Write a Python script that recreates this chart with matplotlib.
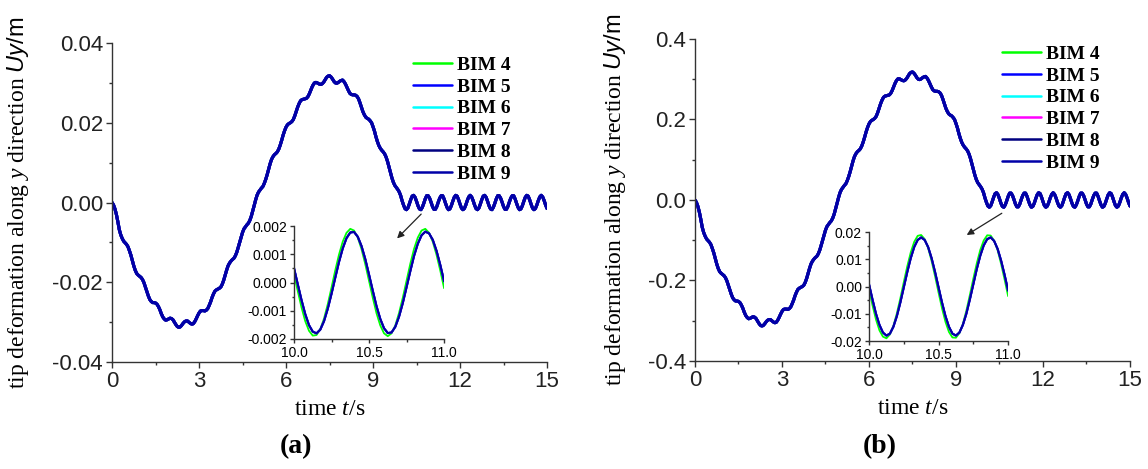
import numpy as np
import matplotlib
matplotlib.use('Agg')
import matplotlib.pyplot as plt
from matplotlib.ticker import MultipleLocator, FormatStrFormatter

plt.rcParams['font.family'] = 'Liberation Sans'
plt.rcParams['axes.unicode_minus'] = False
plt.rcParams['mathtext.fontset'] = 'custom'
plt.rcParams['mathtext.rm'] = 'Liberation Serif'
plt.rcParams['mathtext.it'] = 'Liberation Serif:italic'
plt.rcParams['mathtext.sf'] = 'Liberation Sans:italic'
plt.rcParams['mathtext.bf'] = 'Liberation Sans'

# ---- data ----
labels = ['BIM 4', 'BIM 5', 'BIM 6', 'BIM 7', 'BIM 8', 'BIM 9']
colors = ['#00ff00', '#0000ff', '#00ffff', '#ff00ff', '#000080', '#0000a8']

t_step = 0.05
t_main = np.round(np.arange(301) * t_step, 2)  # 0 ... 15 s

# tip deformation (m), panel (a)
uy_a = [
    0.0, -0.0006, -0.0016, -0.0030, -0.0048, -0.0068, -0.0081, -0.0090, -0.0097, -0.0101,
    -0.0105, -0.0111, -0.0121, -0.0132, -0.0146, -0.0159, -0.0170, -0.0178, -0.0182, -0.0185,
    -0.0188, -0.0193, -0.0201, -0.0212, -0.0223, -0.0234, -0.0243, -0.0248, -0.0251, -0.0251,
    -0.0252, -0.0255, -0.0261, -0.0269, -0.0279, -0.0287, -0.0292, -0.0295, -0.0294, -0.0292,
    -0.0290, -0.0291, -0.0294, -0.0300, -0.0306, -0.0311, -0.0313, -0.0312, -0.0308, -0.0303,
    -0.0299, -0.0297, -0.0297, -0.0300, -0.0303, -0.0305, -0.0304, -0.0299, -0.0292, -0.0284,
    -0.0277, -0.0272, -0.0271, -0.0271, -0.0272, -0.0270, -0.0266, -0.0258, -0.0249, -0.0238,
    -0.0229, -0.0222, -0.0219, -0.0217, -0.0215, -0.0212, -0.0205, -0.0195, -0.0182, -0.0170,
    -0.0159, -0.0152, -0.0147, -0.0143, -0.0140, -0.0134, -0.0125, -0.0113, -0.0100, -0.0086,
    -0.0075, -0.0066, -0.0061, -0.0056, -0.0052, -0.0045, -0.0035, -0.0022, -0.0008, 0.0006,
    0.0018, 0.0026, 0.0031, 0.0036, 0.0040, 0.0048, 0.0058, 0.0070, 0.0084, 0.0097,
    0.0108, 0.0115, 0.0120, 0.0123, 0.0127, 0.0134, 0.0144, 0.0156, 0.0169, 0.0180,
    0.0189, 0.0195, 0.0198, 0.0200, 0.0203, 0.0208, 0.0217, 0.0228, 0.0239, 0.0248,
    0.0255, 0.0258, 0.0259, 0.0260, 0.0261, 0.0265, 0.0272, 0.0281, 0.0290, 0.0297,
    0.0301, 0.0301, 0.0299, 0.0297, 0.0296, 0.0298, 0.0302, 0.0308, 0.0314, 0.0317,
    0.0318, 0.0315, 0.0310, 0.0304, 0.0300, 0.0299, 0.0301, 0.0304, 0.0306, 0.0307,
    0.0303, 0.0297, 0.0289, 0.0281, 0.0274, 0.0271, 0.0270, 0.0270, 0.0269, 0.0266,
    0.0260, 0.0250, 0.0239, 0.0228, 0.0220, 0.0214, 0.0211, 0.0209, 0.0205, 0.0200,
    0.0190, 0.0179, 0.0165, 0.0153, 0.0143, 0.0136, 0.0131, 0.0127, 0.0122, 0.0114,
    0.0103, 0.0089, 0.0075, 0.0062, 0.0051, 0.0043, 0.0038, 0.0033, 0.0027, 0.0018,
    0.0005, -0.0006, -0.0015, -0.0018, -0.0014, -0.0004, 0.0007, 0.0016, 0.0018, 0.0013,
    0.0003, -0.0008, -0.0016, -0.0018, -0.0012, -0.0002, 0.0009, 0.0017, 0.0017, 0.0011,
    0.0001, -0.0010, -0.0017, -0.0017, -0.0010, 0.0001, 0.0011, 0.0017, 0.0017, 0.0009,
    -0.0002, -0.0012, -0.0018, -0.0016, -0.0008, 0.0003, 0.0013, 0.0018, 0.0016, 0.0007,
    -0.0004, -0.0014, -0.0018, -0.0015, -0.0006, 0.0005, 0.0014, 0.0018, 0.0014, 0.0005,
    -0.0006, -0.0015, -0.0018, -0.0014, -0.0004, 0.0007, 0.0016, 0.0018, 0.0013, 0.0003,
    -0.0008, -0.0016, -0.0018, -0.0012, -0.0002, 0.0009, 0.0017, 0.0017, 0.0011, 0.0001,
    -0.0010, -0.0017, -0.0017, -0.0010, 0.0001, 0.0011, 0.0017, 0.0017, 0.0009, -0.0002,
    -0.0012, -0.0018, -0.0016, -0.0008, 0.0003, 0.0013, 0.0018, 0.0016, 0.0007, -0.0004,
    -0.0014, -0.0018, -0.0015, -0.0006, 0.0005, 0.0014, 0.0018, 0.0014, 0.0005, -0.0006,
    -0.0015,
]

# tip deformation (m), panel (b)
uy_b = [
    0.0, -0.006, -0.016, -0.030, -0.048, -0.068, -0.081, -0.090, -0.097, -0.101,
    -0.105, -0.111, -0.121, -0.132, -0.146, -0.159, -0.170, -0.178, -0.182, -0.185,
    -0.188, -0.193, -0.201, -0.212, -0.223, -0.234, -0.243, -0.248, -0.251, -0.251,
    -0.252, -0.255, -0.261, -0.269, -0.279, -0.287, -0.292, -0.295, -0.294, -0.292,
    -0.290, -0.291, -0.294, -0.300, -0.306, -0.311, -0.313, -0.312, -0.308, -0.303,
    -0.299, -0.297, -0.297, -0.300, -0.303, -0.305, -0.304, -0.299, -0.292, -0.284,
    -0.277, -0.272, -0.271, -0.271, -0.272, -0.270, -0.266, -0.258, -0.249, -0.238,
    -0.229, -0.222, -0.219, -0.217, -0.215, -0.212, -0.205, -0.195, -0.182, -0.170,
    -0.159, -0.152, -0.147, -0.143, -0.140, -0.134, -0.125, -0.113, -0.100, -0.086,
    -0.075, -0.066, -0.061, -0.056, -0.052, -0.045, -0.035, -0.022, -0.008, 0.006,
    0.018, 0.026, 0.031, 0.036, 0.040, 0.048, 0.058, 0.070, 0.084, 0.097,
    0.108, 0.115, 0.120, 0.123, 0.127, 0.134, 0.144, 0.156, 0.169, 0.180,
    0.189, 0.195, 0.198, 0.200, 0.203, 0.208, 0.217, 0.228, 0.239, 0.248,
    0.255, 0.258, 0.259, 0.260, 0.261, 0.265, 0.272, 0.281, 0.290, 0.297,
    0.301, 0.301, 0.299, 0.297, 0.296, 0.298, 0.302, 0.308, 0.314, 0.317,
    0.318, 0.315, 0.310, 0.304, 0.300, 0.299, 0.301, 0.304, 0.306, 0.307,
    0.303, 0.297, 0.289, 0.281, 0.274, 0.271, 0.270, 0.270, 0.269, 0.266,
    0.260, 0.250, 0.239, 0.228, 0.220, 0.214, 0.211, 0.209, 0.205, 0.200,
    0.190, 0.179, 0.165, 0.153, 0.143, 0.136, 0.131, 0.127, 0.122, 0.114,
    0.103, 0.089, 0.075, 0.062, 0.051, 0.043, 0.038, 0.033, 0.027, 0.018,
    0.005, -0.006, -0.015, -0.018, -0.014, -0.004, 0.007, 0.016, 0.018, 0.013,
    0.003, -0.008, -0.016, -0.018, -0.012, -0.002, 0.009, 0.017, 0.017, 0.011,
    0.001, -0.010, -0.017, -0.017, -0.010, 0.001, 0.011, 0.017, 0.017, 0.009,
    -0.002, -0.012, -0.018, -0.016, -0.008, 0.003, 0.013, 0.018, 0.016, 0.007,
    -0.004, -0.014, -0.018, -0.015, -0.006, 0.005, 0.014, 0.018, 0.014, 0.005,
    -0.006, -0.015, -0.018, -0.014, -0.004, 0.007, 0.016, 0.018, 0.013, 0.003,
    -0.008, -0.016, -0.018, -0.012, -0.002, 0.009, 0.017, 0.017, 0.011, 0.001,
    -0.010, -0.017, -0.017, -0.010, 0.001, 0.011, 0.017, 0.017, 0.009, -0.002,
    -0.012, -0.018, -0.016, -0.008, 0.003, 0.013, 0.018, 0.016, 0.007, -0.004,
    -0.014, -0.018, -0.015, -0.006, 0.005, 0.014, 0.018, 0.014, 0.005, -0.006,
    -0.015,
]

# zoomed window 10-11 s
t_ins = np.round(10.0 + np.arange(41) * 0.025, 3)

ins_a_bim4 = [
    0.00030, -0.00030, -0.00088, -0.00137, -0.00171, -0.00188, -0.00186, -0.00165, -0.00128, -0.00077,
    -0.00018, 0.00043, 0.00099, 0.00145, 0.00176, 0.00190, 0.00184, 0.00159, 0.00118, 0.00065,
    0.00006, -0.00054, -0.00109, -0.00152, -0.00180, -0.00190, -0.00180, -0.00152, -0.00108, -0.00054,
    0.00006, 0.00066, 0.00119, 0.00159, 0.00184, 0.00190, 0.00176, 0.00144, 0.00098, 0.00042,
    -0.00019,
]
ins_a_bim5_9 = [
    0.00051, -0.00006, -0.00062, -0.00112, -0.00151, -0.00174, -0.00180, -0.00167, -0.00137, -0.00093,
    -0.00040, 0.00017, 0.00073, 0.00121, 0.00157, 0.00177, 0.00179, 0.00162, 0.00129, 0.00083,
    0.00028, -0.00029, -0.00084, -0.00129, -0.00162, -0.00179, -0.00177, -0.00157, -0.00121, -0.00073,
    -0.00017, 0.00040, 0.00094, 0.00137, 0.00167, 0.00180, 0.00174, 0.00151, 0.00112, 0.00062,
    0.00005,
]
ins_b_bim4 = [
    -0.0010, -0.0069, -0.0121, -0.0161, -0.0184, -0.0190, -0.0176, -0.0145, -0.0099, -0.0044,
    0.0016, 0.0074, 0.0125, 0.0164, 0.0186, 0.0189, 0.0174, 0.0141, 0.0094, 0.0038,
    -0.0022, -0.0080, -0.0130, -0.0167, -0.0187, -0.0188, -0.0171, -0.0137, -0.0089, -0.0032,
    0.0028, 0.0085, 0.0134, 0.0169, 0.0188, 0.0187, 0.0168, 0.0133, 0.0083, 0.0026,
    -0.0034,
]
ins_b_bim5_9 = [
    0.0008, -0.0048, -0.0100, -0.0141, -0.0169, -0.0180, -0.0173, -0.0148, -0.0109, -0.0059,
    -0.0003, 0.0053, 0.0104, 0.0145, 0.0171, 0.0180, 0.0171, 0.0145, 0.0104, 0.0053,
    -0.0003, -0.0059, -0.0109, -0.0148, -0.0173, -0.0180, -0.0169, -0.0141, -0.0100, -0.0048,
    0.0008, 0.0064, 0.0113, 0.0151, 0.0174, 0.0180, 0.0167, 0.0138, 0.0095, 0.0043,
    -0.0014,
]

SERIF = 'Liberation Serif'
AX_COLOR = '#333333'


def style_axis(ax, size, major_len, minor_len):
    for side in ('top', 'right'):
        ax.spines[side].set_visible(False)
    for side in ('left', 'bottom'):
        ax.spines[side].set_color(AX_COLOR)
        ax.spines[side].set_linewidth(1.0)
    ax.tick_params(which='major', direction='out', length=major_len, width=1.0,
                   color=AX_COLOR, labelsize=size, pad=2)
    ax.tick_params(which='minor', direction='out', length=minor_len, width=1.0,
                   color=AX_COLOR)
    ax.patch.set_alpha(0)


fig = plt.figure(figsize=(11.48, 4.69), dpi=100)

panels = [
    dict(rect=[0.0976, 0.2281, 0.3789, 0.6802], uy=uy_a, ylim=0.04, ymaj=0.02, yfmt='%.2f',
         inset=[0.2561, 0.2772, 0.1307, 0.2409], ins=(ins_a_bim4, ins_a_bim5_9), ins_lim=0.002,
         ins_maj=0.001, ins_fmt='%.3f', ylab_x=-0.186, leg=(413, 56),
         arrow=((10.66, -0.0029), (9.83, -0.0090)), tag='(a)', tag_x=296),
    dict(rect=[0.6054, 0.2303, 0.3789, 0.6866], uy=uy_b, ylim=0.4, ymaj=0.2, yfmt='%.1f',
         inset=[0.7570, 0.2729, 0.1211, 0.2324], ins=(ins_b_bim4, ins_b_bim5_9), ins_lim=0.02,
         ins_maj=0.01, ins_fmt='%.2f', ylab_x=-0.154, leg=(1002, 45),
         arrow=((10.58, -0.033), (9.37, -0.087)), tag='(b)', tag_x=880),
]

for p in panels:
    ax = fig.add_axes(p['rect'])
    for lab, col in zip(labels, colors):
        ax.plot(t_main, p['uy'], color=col, lw=2.2, label=lab, solid_capstyle='round')
    ax.set_xlim(0, 15)
    ax.set_ylim(-p['ylim'], p['ylim'])
    ax.xaxis.set_major_locator(MultipleLocator(3))
    ax.xaxis.set_minor_locator(MultipleLocator(1.5))
    ax.yaxis.set_major_locator(MultipleLocator(p['ymaj']))
    ax.yaxis.set_minor_locator(MultipleLocator(p['ymaj'] / 2))
    ax.yaxis.set_major_formatter(FormatStrFormatter(p['yfmt']))
    style_axis(ax, 16, 4.5, 2.5)
    for lbl in ax.get_xticklabels() + ax.get_yticklabels():
        lbl.set_color('#222222')

    ax.set_xlabel(r'time $\mathit{t}$/s', fontsize=17, family=SERIF)
    ax.xaxis.set_label_coords(0.5, -0.115)
    ax.set_ylabel(r'tip deformation along $\mathit{y}$ direction $\mathsf{Uy}\mathbf{/m}$',
                  fontsize=17, family=SERIF)
    ax.yaxis.set_label_coords(p['ylab_x'], 0.5)

    leg = ax.legend(loc='upper left', bbox_to_anchor=(p['leg'][0] / 1148, 1 - p['leg'][1] / 469),
                    bbox_transform=fig.transFigure, frameon=False, borderpad=0,
                    borderaxespad=0, handlelength=2.0, handletextpad=0.25,
                    labelspacing=0.22, prop=dict(family=SERIF, weight='bold', size=14))
    for ln in leg.get_lines():
        ln.set_linewidth(1.8)

    ax.annotate('', xy=p['arrow'][1], xytext=p['arrow'][0],
                arrowprops=dict(arrowstyle='-|>', color='#222222', lw=0.9,
                                mutation_scale=10, shrinkA=0, shrinkB=0))

    axi = fig.add_axes(p['inset'])
    ins4, ins59 = p['ins']
    for lab, col in zip(labels, colors):
        vals = ins4 if lab == 'BIM 4' else ins59
        axi.plot(t_ins, vals, color=col, lw=1.3 if lab != 'BIM 5' else 1.6)
    axi.set_xlim(10, 11)
    axi.set_ylim(-p['ins_lim'], p['ins_lim'])
    axi.xaxis.set_major_locator(MultipleLocator(0.5))
    axi.xaxis.set_minor_locator(MultipleLocator(0.25))
    axi.xaxis.set_major_formatter(FormatStrFormatter('%.1f'))
    axi.yaxis.set_major_locator(MultipleLocator(p['ins_maj']))
    axi.yaxis.set_minor_locator(MultipleLocator(p['ins_maj'] / 2))
    axi.yaxis.set_major_formatter(FormatStrFormatter(p['ins_fmt']))
    style_axis(axi, 10, 3, 1.8)

    fig.text(p['tag_x'] / 1148, 1 - 447 / 469, p['tag'], ha='center', va='center',
             fontsize=20, fontweight='bold', family=SERIF)

fig.savefig('out.png', dpi=100)
